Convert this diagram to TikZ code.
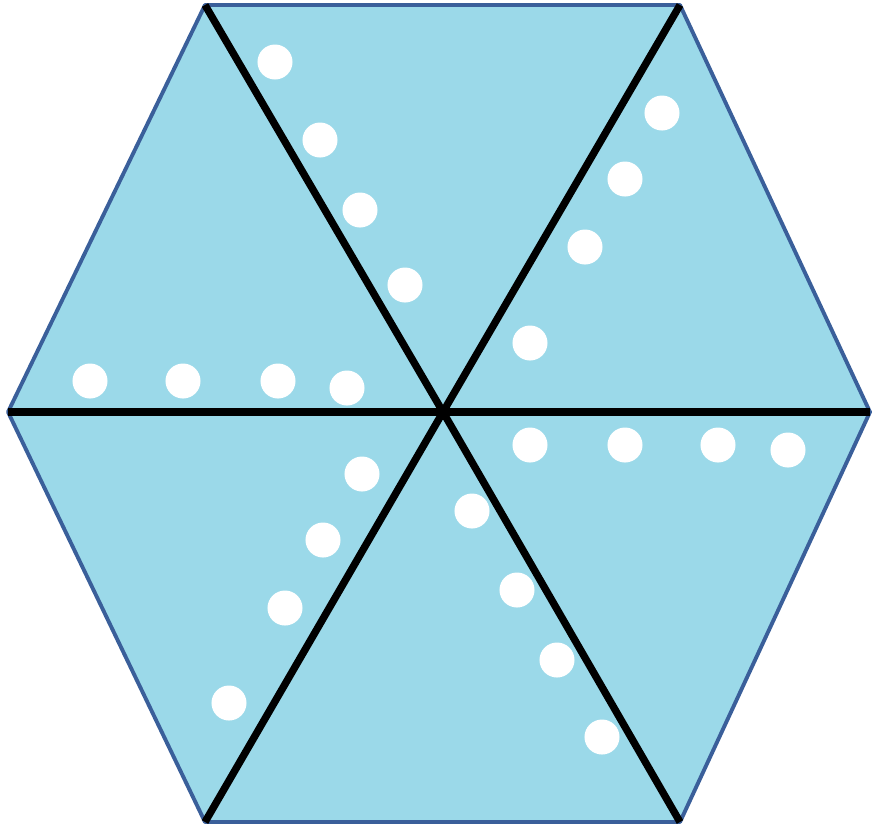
\documentclass[tikz,border=0pt]{standalone}
\usepackage{xcolor}
\usepackage{tikz}

\definecolor{hexfill}{HTML}{9BD9E9}
\definecolor{hexline}{HTML}{3A5F9A}

\tikzset{
    spot/.style={circle, fill=white, minimum size=0.35cm, inner sep=0pt},
    spoke/.style={line width=2.1pt, black}
}

\begin{document}
\begin{tikzpicture}[x=0.01cm, y=-0.01cm]
    \useasboundingbox (0, 0) rectangle (872, 826);

    \coordinate (c) at (443, 412);
    \coordinate (tl) at (205, 5);
    \coordinate (tr) at (680, 5);
    \coordinate (r) at (870, 412);
    \coordinate (br) at (680, 822);
    \coordinate (bl) at (205, 822);
    \coordinate (l) at (8, 412);

    % hexagon
    \draw[hexline, fill=hexfill, line width=1.1pt, line join=round]
        (tl) -- (tr) -- (r) -- (br) -- (bl) -- (l) -- cycle;

    % spokes
    \draw[spoke] (tl) -- (c);
    \draw[spoke] (tr) -- (c);
    \draw[spoke] (r) -- (c);
    \draw[spoke] (br) -- (c);
    \draw[spoke] (bl) -- (c);
    \draw[spoke] (l) -- (c);

    % dots
    \node[spot] at (275, 62) (a1) {};
    \node[spot] at (320, 140) (a2) {};
    \node[spot] at (360, 210) (a3) {};
    \node[spot] at (405, 285) (a4) {};

    \node[spot] at (662, 113) (b1) {};
    \node[spot] at (625, 179) (b2) {};
    \node[spot] at (585, 247) (b3) {};
    \node[spot] at (530, 343) (b4) {};

    \node[spot] at (90, 381) (d1) {};
    \node[spot] at (183, 381) (d2) {};
    \node[spot] at (278, 381) (d3) {};
    \node[spot] at (347, 388) (d4) {};

    \node[spot] at (530, 445) (e1) {};
    \node[spot] at (625, 445) (e2) {};
    \node[spot] at (718, 445) (e3) {};
    \node[spot] at (788, 450) (e4) {};

    \node[spot] at (362, 474) (f1) {};
    \node[spot] at (323, 540) (f2) {};
    \node[spot] at (285, 608) (f3) {};
    \node[spot] at (229, 703) (f4) {};

    \node[spot] at (472, 511) (g1) {};
    \node[spot] at (517, 590) (g2) {};
    \node[spot] at (557, 660) (g3) {};
    \node[spot] at (602, 737) (g4) {};
\end{tikzpicture}
\end{document}
